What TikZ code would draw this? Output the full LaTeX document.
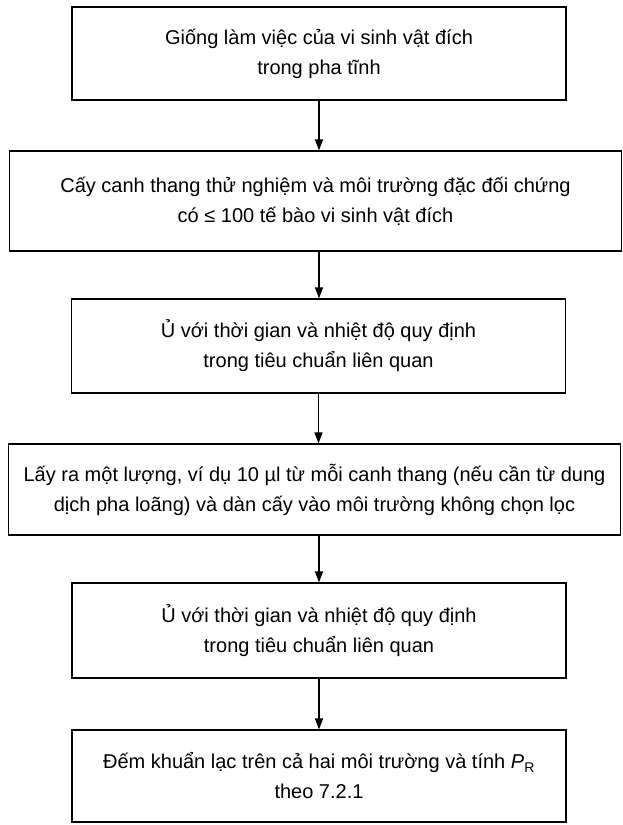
\documentclass[tikz,border=0pt]{standalone}
\usepackage{fontspec}
\setmainfont{Liberation Sans}
\usetikzlibrary{arrows.meta, positioning}
\tikzset{
  stepbox/.style={draw, line width=1.2pt, align=center, inner sep=0pt,
    minimum width=494pt, font=\fontsize{20}{30}\selectfont},
  widebox/.style={stepbox, minimum width=612pt},
  flow/.style={-{Triangle[length=11pt, width=8pt]}, line width=1.3pt}
}

\begin{document}
\begin{tikzpicture}[x=1pt, y=-1pt]
  \useasboundingbox (0,0) rectangle (622,825);
  \node[stepbox, minimum height=93pt] (giong) at (319,53.5) {Giống làm việc của vi sinh vật đích\\trong pha tĩnh};
  \node[widebox, minimum height=100pt] (cay) at (315.5,201) {Cấy canh thang thử nghiệm và môi trường đặc đối chứng\\có ≤ 100 tế bào vi sinh vật đích};
  \node[stepbox, minimum height=94pt] (u1) at (318.5,346) {Ủ với thời gian và nhiệt độ quy định\\trong tiêu chuẩn liên quan};
  \node[widebox, minimum height=91pt] (layra) at (314.5,489.5) {Lấy ra một lượng, ví dụ 10 µl từ mỗi canh thang (nếu cần từ dung\\dịch pha loãng) và dàn cấy vào môi trường không chọn lọc};
  \node[stepbox, minimum height=95pt] (u2) at (319,630.5) {Ủ với thời gian và nhiệt độ quy định\\trong tiêu chuẩn liên quan};
  \node[stepbox, minimum height=92pt] (dem) at (319,776) {Đếm khuẩn lạc trên cả hai môi trường và tính \textit{P}\textsubscript{R}\\theo 7.2.1};
  \draw[flow] (giong.south) -- (giong.south |- cay.north);
  \draw[flow] (giong.south |- cay.south) -- (giong.south |- u1.north);
  \draw[flow] (u1.south) -- (u1.south |- layra.north);
  \draw[flow] (giong.south |- layra.south) -- (giong.south |- u2.north);
  \draw[flow] (u2.south) -- (u2.south |- dem.north);
\end{tikzpicture}
\end{document}
